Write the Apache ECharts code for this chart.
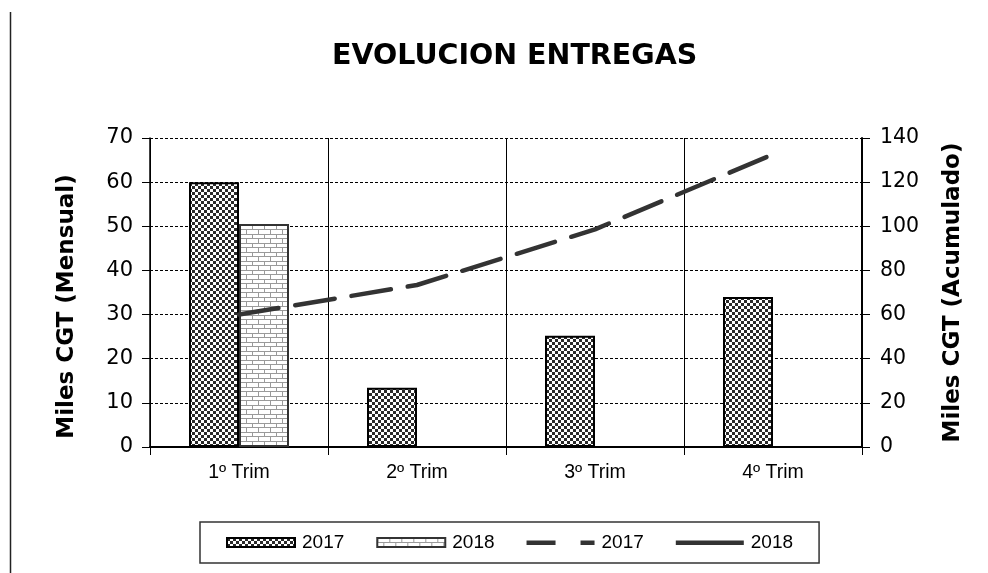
<!DOCTYPE html>
<html>
<head>
<meta charset="utf-8">
<script src="https://cdn.jsdelivr.net/npm/echarts@6/dist/echarts.min.js"></script>
<style>
html,body{margin:0;padding:0;background:#fff;}
#chart{width:988px;height:573px;}
</style>
</head>
<body>
<div id="chart"></div>
<script>
var categories = ['1º Trim', '2º Trim', '3º Trim', '4º Trim'];
var monthly2017 = [60, 13.4, 25.2, 34];
var monthly2018 = [50.5, null, null, null];
var accum2017 = [60, 73.4, 98.6, 132.6];
var accum2018 = [50.5, null, null, null];
var leftTicks = [0, 70, 10];
var rightTicks = [0, 140, 20];

function checker() {
  var c = document.createElement('canvas');
  c.width = 6; c.height = 6;
  var g = c.getContext('2d');
  g.fillStyle = '#ffffff'; g.fillRect(0, 0, 6, 6);
  g.fillStyle = '#2a2a2a';
  g.fillRect(0, 0, 3, 3); g.fillRect(3, 3, 3, 3);
  return c;
}
function brick() {
  var c = document.createElement('canvas');
  c.width = 12; c.height = 9;
  var g = c.getContext('2d');
  g.fillStyle = '#ffffff'; g.fillRect(0, 0, 12, 9);
  g.fillStyle = '#9a9a9a';
  g.fillRect(0, 0, 12, 1);
  g.fillRect(0, 4, 12, 1);
  g.fillRect(0, 0, 1, 4);
  g.fillRect(6, 4, 1, 5);
  return c;
}

var dashIcon = 'path://M0,0M0,9M0,2.5h29v4.5h-29zM54,2.5h14v4.5h-14zM68,0';
var solidIcon = 'path://M0,0M0,9M0,2.5h68v4.5h-68zM68,0';

var chart = echarts.init(document.getElementById('chart'), null, {renderer: 'canvas'});
var FONT = 'DejaVu Sans';
chart.setOption({
  backgroundColor: '#ffffff',
  animation: false,
  title: {
    text: 'EVOLUCION ENTREGAS',
    left: 327,
    top: 37,
    textStyle: {fontFamily: FONT, fontSize: 28.5, fontWeight: 'bold', color: '#000'}
  },
  graphic: [{
    type: 'line',
    shape: {x1: 10.5, y1: 12, x2: 10.5, y2: 573},
    style: {stroke: '#222', lineWidth: 1.5}
  }],
  legend: {
    left: 200,
    top: 522,
    padding: [11, 26, 11, 26],
    borderColor: '#333',
    borderWidth: 1.5,
    itemWidth: 68,
    itemHeight: 9,
    itemGap: 32,
    symbolKeepAspect: false,
    textStyle: {fontFamily: 'Liberation Sans', fontSize: 19, color: '#000', padding: [0, 0, 0, 2]},
    data: [
      {name: '2017 ', icon: 'rect'},
      {name: '2018 ', icon: 'rect'},
      {name: '2017', icon: dashIcon, itemStyle: {color: '#333', borderWidth: 0}},
      {name: '2018', icon: solidIcon, itemStyle: {color: '#333', borderWidth: 0}}
    ],
    formatter: function (n) { return n.trim(); }
  },
  grid: {left: 150, right: 126, top: 138, bottom: 126},
  xAxis: {
    type: 'category',
    data: categories,
    boundaryGap: true,
    axisLine: {lineStyle: {color: '#000', width: 2}},
    axisTick: {show: true, length: 8, lineStyle: {color: '#000', width: 1}},
    axisLabel: {fontFamily: 'Liberation Sans', fontSize: 19.5, color: '#000', margin: 16},
    splitLine: {show: true, lineStyle: {color: '#000', width: 1, type: 'solid'}}
  },
  yAxis: [{
    type: 'value',
    min: leftTicks[0], max: leftTicks[1], interval: leftTicks[2],
    name: 'Miles CGT (Mensual)',
    nameLocation: 'middle',
    nameRotate: 90,
    nameGap: 71,
    nameTextStyle: {fontFamily: FONT, fontSize: 23, fontWeight: 'bold', color: '#000', padding: [0, 28, 0, 0]},
    axisLine: {show: true, lineStyle: {color: '#000', width: 1.5}},
    axisTick: {show: true, length: 8, lineStyle: {color: '#000', width: 1}},
    axisLabel: {fontFamily: FONT, fontSize: 21, color: '#000', margin: 17},
    splitLine: {show: true, lineStyle: {color: '#000', width: 1, type: [3, 2]}}
  }, {
    type: 'value',
    min: rightTicks[0], max: rightTicks[1], interval: rightTicks[2],
    position: 'right',
    name: 'Miles CGT (Acumulado)',
    nameLocation: 'middle',
    nameRotate: 90,
    nameGap: 80,
    nameTextStyle: {fontFamily: FONT, fontSize: 23, fontWeight: 'bold', color: '#000'},
    axisLine: {show: true, lineStyle: {color: '#000', width: 2}},
    axisTick: {show: true, length: 8, lineStyle: {color: '#000', width: 1}},
    axisLabel: {fontFamily: FONT, fontSize: 20.5, color: '#000', margin: 18},
    splitLine: {show: false}
  }],
  series: [{
    name: '2017 ',
    type: 'bar',
    data: monthly2017,
    barWidth: 50,
    barGap: '0%',
    itemStyle: {color: {image: checker(), repeat: 'repeat'}, borderColor: '#000', borderWidth: 2}
  }, {
    name: '2018 ',
    type: 'bar',
    data: monthly2018,
    barWidth: 50,
    barGap: '0%',
    itemStyle: {color: {image: brick(), repeat: 'repeat'}, borderColor: '#333', borderWidth: 2}
  }, {
    name: '2017',
    type: 'line',
    yAxisIndex: 1,
    data: accum2017,
    symbol: 'none',
    lineStyle: {color: '#333', width: 4.5, type: [40, 17], cap: 'round'},
    itemStyle: {color: '#333'}
  }, {
    name: '2018',
    type: 'line',
    yAxisIndex: 1,
    data: accum2018,
    symbol: 'none',
    lineStyle: {color: '#333', width: 4.5, type: 'solid'},
    itemStyle: {color: '#333'}
  }]
});
</script>
</body>
</html>
